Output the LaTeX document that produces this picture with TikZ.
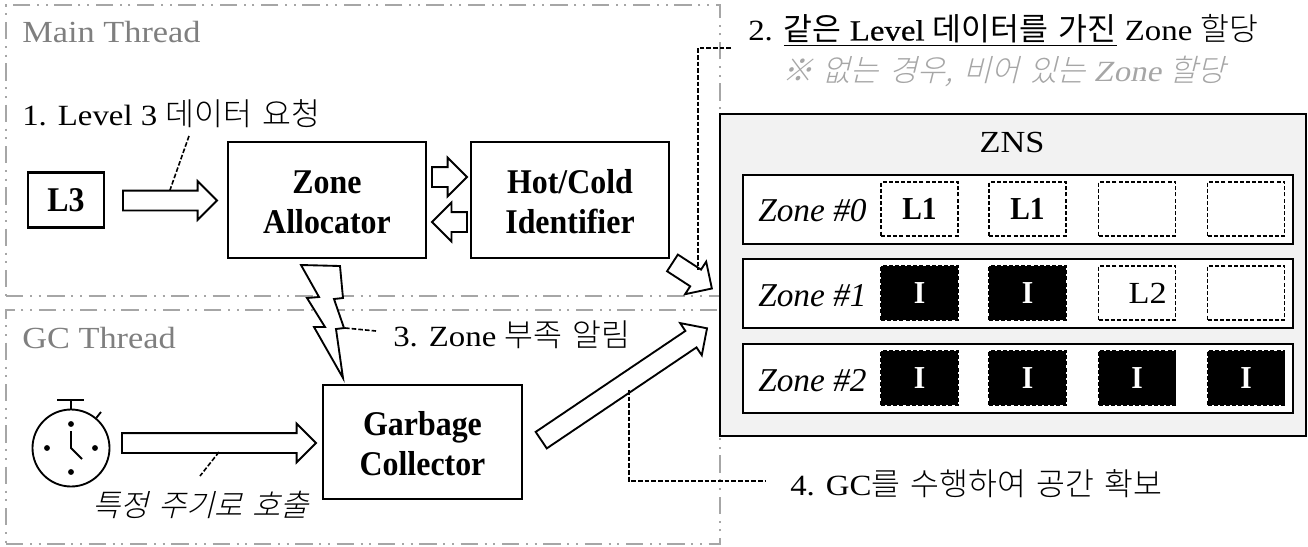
\documentclass[tikz,border=0pt]{standalone}
\usepackage{fontspec}
\setmainfont{Liberation Serif}
\newfontfamily\krfont[Scale=1.07,WordSpace=1.5]{Noto Sans CJK KR Light}
\newfontfamily\krboldfont[Scale=1.07,WordSpace=1.5]{Noto Sans CJK KR}
\newfontfamily\kritfont[Scale=1.04,WordSpace=1.5,FakeSlant=0.25]{Noto Sans CJK KR Light}
\newfontfamily\wideserif[FakeStretch=1.12]{Liberation Serif}
\newfontfamily\widebold[FakeStretch=1.12,FakeBold=0.6]{Liberation Serif}
\newfontfamily\wideitalic[FakeStretch=1.12,FakeSlant=0.2]{Liberation Serif}
\newfontfamily\blockfont[FakeStretch=0.92]{Liberation Serif}
\newcommand{\kr}[1]{{\krfont #1}}
\newcommand{\krb}[1]{{\krboldfont #1}}
\newcommand{\krit}[1]{{\kritfont #1}}
\usepackage{tikz}
\usetikzlibrary{shapes.arrows}

\begin{document}
\begin{tikzpicture}
	[x=0.75pt,y=-0.75pt,line cap=butt,
	%Styles
	thread box/.style={draw=threadgray,line width=1.5pt,dash pattern=on 13pt off 5pt on 1.5pt off 5pt on 1.5pt off 5pt},
	thread label/.style={text=labelgray,anchor=west,inner sep=0pt,font=\wideserif\fontsize{23}{26}\selectfont},
	call label/.style={anchor=west,inner sep=0pt,font=\wideserif\fontsize{22}{25}\selectfont},
	block/.style={draw,line width=1.6pt,fill=white,inner sep=0pt,align=center,font=\blockfont\bfseries\fontsize{26}{30}\selectfont},
	row/.style={draw,line width=1.6pt,fill=white,inner sep=0pt,minimum width=412.5pt,minimum height=51.75pt},
	zone name/.style={anchor=west,inner sep=0pt,font=\itshape\fontsize{25}{30}\selectfont},
	cell/.style={draw,dash pattern=on 3pt off 1.6pt,line width=1pt,fill=white,inner sep=0pt,minimum width=57.75pt,minimum height=40.5pt,font=\blockfont\bfseries\fontsize{24}{26}\selectfont},
	used cell/.style={cell,fill=black,text=white},
	fat arrow/.style={single arrow,draw,line width=1.4pt,fill=white,inner xsep=0pt,inner ysep=6.75pt,single arrow head extend=7.1pt},
	leader/.style={dash pattern=on 3.5pt off 1.5pt,line width=1.2pt}
	]
	
	%Colors
	\definecolor{threadgray}{HTML}{A6A6A6}
	\definecolor{labelgray}{HTML}{7F7F7F}
	\definecolor{notegray}{HTML}{A6A6A6}
	\definecolor{znsgray}{HTML}{F2F2F2}
	
	\useasboundingbox (0,0) rectangle (1308,546);
	
	%The graphic
	
	%threads
	\node[thread box,inner sep=0pt,minimum width=535.5pt,minimum height=218.25pt] (mainbox) at (363,150.5) {};
	\node[thread box,inner sep=0pt,minimum width=535.5pt,minimum height=175.5pt] (gcbox) at (363,427) {};
	\node[thread label] (mainlabel) at (22,32) {Main Thread};
	\node[thread label] (gclabel) at (22,338) {GC Thread};
	
	%main thread
	\node[block,minimum width=57pt,minimum height=41.25pt] (levelthree) at (66,200) {L3};
	\node[block,minimum width=148.5pt,minimum height=87pt] (allocator) at (327,200) {\rule{0pt}{21pt}Zone\\Allocator};
	\node[block,minimum width=148.5pt,minimum height=87pt] (identifier) at (570,200) {\rule{0pt}{21pt}Hot/Cold\\Identifier};
	\node[fat arrow,minimum height=70.5pt] (requestarrow) at (165,200.5) {};
	\node[fat arrow,minimum height=26.25pt] (hotarrow) at (444.5,177) {};
	\node[fat arrow,minimum height=26.25pt,rotate=180] (coldarrow) at (454.5,222) {};
	
	%gc thread
	\node[block,minimum width=149.25pt,minimum height=85.5pt] (collector) at (422.5,442) {\rule{0pt}{21pt}Garbage\\Collector};
	\node[fat arrow,minimum height=145.5pt] (timerarrow) at (214,443) {};
	\node[fat arrow,minimum height=150pt,rotate=34] (gcarrow) at (620,387) {};
	\node[fat arrow,minimum height=35.25pt,rotate=-33] (zonearrow) at (688,273) {};
	
	%stopwatch
	\node[draw,circle,line width=1.4pt,inner sep=0pt,minimum size=57.75pt] (watch) at (71,448) {};
	\draw[line width=1.4pt] (57,400) -- (84,400);
	\draw[line width=1.4pt] (71,400) -- (watch.north);
	\draw[line width=1.4pt] (watch.50) -- (101,412);
	\draw[line width=1.4pt] (71,431) -- (71,448) -- (82,459);
	\fill (71,424) circle (2.2pt);
	\fill (71,472) circle (2.2pt);
	\fill (47,448) circle (2.2pt);
	\fill (95,448) circle (2.2pt);
	
	%lightning
	\draw[line width=1.4pt,fill=white] (301,265) -- (340,266) -- (343,298) -- (334,299) -- (344,328) -- (336,329) -- (343,378) -- (314,327) -- (325,327) -- (307,298) -- (319,297) -- cycle;
	
	%zns
	\node[draw,line width=1.8pt,fill=znsgray,inner sep=0pt,minimum width=439.5pt,minimum height=241.5pt] (zns) at (1013,275) {};
	\node[inner sep=0pt,font=\wideserif\fontsize{23}{26}\selectfont] (znslabel) at (1012,142) {ZNS};
	
	\node[row] (rowzero) at (1018,209.5) {};
	\node[row] (rowone) at (1018,293.5) {};
	\node[row] (rowtwo) at (1018,378.5) {};
	
	\node[zone name] (zonezero) at (758,211) {Zone \#0};
	\node[zone name] (zoneone) at (758,296) {Zone \#1};
	\node[zone name] (zonetwo) at (758,381) {Zone \#2};
	
	\node[cell] (a1) at (919.5,209) {L1};
	\node[cell] (a2) at (1027.5,209) {L1};
	\node[cell] (a3) at (1137,209) {};
	\node[cell] (a4) at (1246,209) {};
	
	\node[used cell] (b1) at (919.5,293) {I};
	\node[used cell] (b2) at (1027.5,293) {I};
	\node[cell,font=\wideserif\fontsize{23}{26}\selectfont] (b3) at (1137,293) {\hspace*{16pt}L2};
	\node[cell] (b4) at (1246,293) {};
	
	\node[used cell] (c1) at (919.5,378) {I};
	\node[used cell] (c2) at (1027.5,378) {I};
	\node[used cell] (c3) at (1137,378) {I};
	\node[used cell] (c4) at (1246,378) {I};
	
	%labels
	\node[call label] (stepone) at (22,114) {1. Level 3 \kr{데이터 요청}};
	\node[call label] (steptwo) at (748,30) {2. \underline{\krb{같은} {\widebold Level} \krb{데이터를 가진}} Zone \kr{할당}};
	\node[call label,text=notegray,font=\wideitalic\fontsize{22}{25}\selectfont] (note) at (782,72) {\krit{※ 없는 경우, 비어 있는} Zone \krit{할당}};
	\node[call label] (stepthree) at (393,335) {3. Zone \kr{부족 알림}};
	\node[call label] (stepfour) at (790,484) {4. GC\kr{를 수행하여 공간 확보}};
	\node[call label] (timerlabel) at (92,505) {\krit{특정 주기로 호출}};
	
	%leaders
	\coordinate (onetop) at (189,136);
	\coordinate (onefoot) at (170,190);
	\coordinate (twostart) at (731,48);
	\coordinate (twofoot) at (698,270);
	\coordinate (threestart) at (345,328);
	\coordinate (threeend) at (376,331);
	\coordinate (fourtop) at (629,390);
	\coordinate (fourend) at (765,481);
	\coordinate (timertop) at (219,452);
	\coordinate (timerfoot) at (200,476);
	
	\draw[leader] (onetop) -- (onefoot);
	\draw[leader] (twostart) -| (twofoot);
	\draw[leader] (threestart) -- (threeend);
	\draw[leader] (fourtop) |- (fourend);
	\draw[leader] (timertop) -- (timerfoot);
\end{tikzpicture}
\end{document}
